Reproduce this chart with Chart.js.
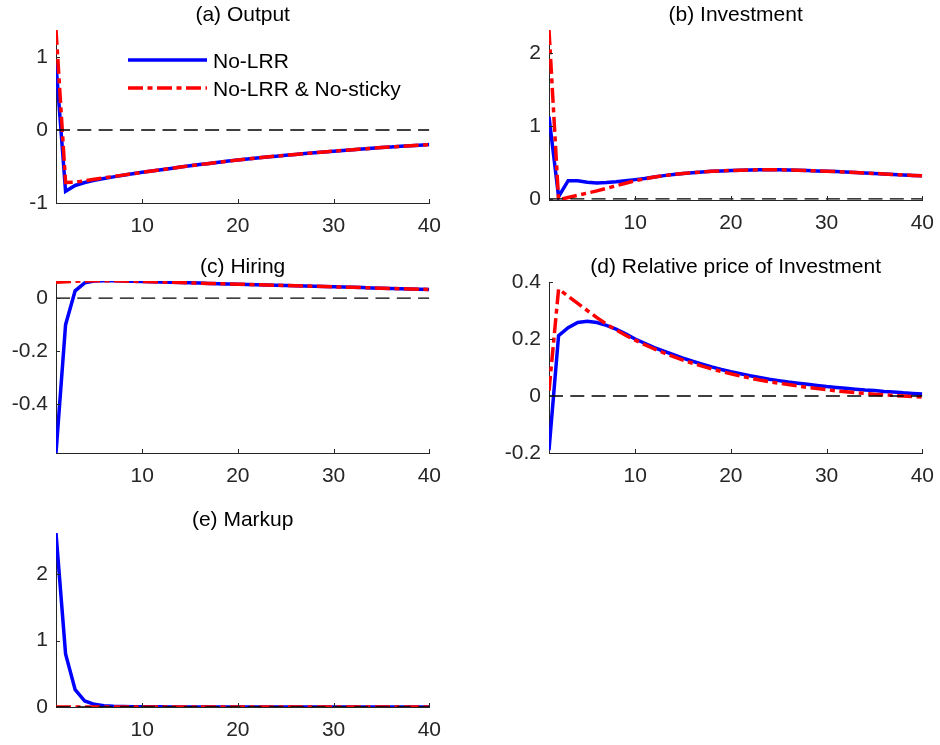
<!DOCTYPE html>
<html><head><meta charset="utf-8">
<script src="https://cdn.jsdelivr.net/npm/chart.js@4/dist/chart.umd.min.js"></script>
<style>
html,body{margin:0;padding:0;background:#fff;width:940px;height:745px;overflow:hidden;}
body{position:relative;font-family:"Liberation Sans",Arial,Helvetica,sans-serif;}
canvas{position:absolute;}
.lg{position:absolute;left:128px;height:28px;font-size:21px;color:#000;white-space:nowrap;}
.lg svg{position:absolute;left:0;top:0;}
.lg span{position:absolute;left:85px;top:50%;transform:translateY(-50%);line-height:1;}
</style></head><body>
<canvas id="cA"></canvas><canvas id="cB"></canvas><canvas id="cC"></canvas><canvas id="cD"></canvas><canvas id="cE"></canvas>
<div class="lg" style="top:46px;width:320px;"><svg width="80" height="28"><line x1="0" y1="14" x2="79" y2="14" stroke="#0000ff" stroke-width="3.5"/></svg><span>No-LRR</span></div>
<div class="lg" style="top:74px;width:320px;"><svg width="80" height="28"><line x1="0" y1="14" x2="79" y2="14" stroke="#ff0000" stroke-width="3.5" stroke-dasharray="15 4.5 5 4.5"/></svg><span>No-LRR &amp; No-sticky</span></div>
<script>
// ---- data ----
const periods = [1,2,3,4,5,6,7,8,9,10,11,12,13,14,15,16,17,18,19,20,21,22,23,24,25,26,27,28,29,30,31,32,33,34,35,36,37,38,39,40];
const xTicks = [10,20,30,40];
const seriesNames = ["No-LRR", "No-LRR & No-sticky"];

const outputNoLRR = [0.90,-0.84,-0.76,-0.72,-0.69,-0.665,-0.642,-0.62,-0.60,-0.58,-0.562,-0.544,-0.526,-0.508,-0.49,-0.474,-0.458,-0.442,-0.426,-0.41,-0.397,-0.384,-0.371,-0.358,-0.345,-0.334,-0.323,-0.312,-0.301,-0.29,-0.28,-0.27,-0.26,-0.25,-0.24,-0.232,-0.224,-0.216,-0.208,-0.20];
const outputNoSticky = [1.37,-0.72,-0.715,-0.695,-0.675,-0.656,-0.637,-0.618,-0.599,-0.58,-0.562,-0.544,-0.526,-0.508,-0.49,-0.474,-0.458,-0.442,-0.426,-0.41,-0.397,-0.384,-0.371,-0.358,-0.345,-0.334,-0.323,-0.312,-0.301,-0.29,-0.28,-0.27,-0.26,-0.25,-0.24,-0.232,-0.224,-0.216,-0.208,-0.20];
const outputTicks = [-1,0,1];

const investNoLRR = [1.13,0.03,0.25,0.25,0.23,0.22,0.225,0.235,0.25,0.265,0.28,0.30,0.32,0.335,0.35,0.36,0.37,0.38,0.385,0.39,0.395,0.398,0.40,0.40,0.40,0.398,0.395,0.39,0.385,0.38,0.375,0.37,0.363,0.356,0.35,0.343,0.336,0.33,0.323,0.317];
const investNoSticky = [2.32,-0.015,0.02,0.05,0.08,0.11,0.145,0.18,0.215,0.25,0.275,0.30,0.32,0.335,0.35,0.36,0.37,0.38,0.385,0.39,0.395,0.398,0.40,0.40,0.40,0.398,0.395,0.39,0.385,0.38,0.375,0.37,0.363,0.356,0.35,0.343,0.336,0.33,0.323,0.317];
const investTicks = [0,1,2];

const hiringNoLRR = [-0.585,-0.10,0.028,0.058,0.065,0.066,0.066,0.065,0.064,0.063,0.062,0.061,0.060,0.059,0.058,0.057,0.056,0.055,0.054,0.053,0.052,0.051,0.050,0.049,0.048,0.047,0.046,0.045,0.044,0.043,0.042,0.041,0.040,0.039,0.038,0.037,0.036,0.035,0.034,0.033];
const hiringNoSticky = [0.060,0.062,0.064,0.065,0.066,0.066,0.066,0.065,0.064,0.063,0.062,0.061,0.060,0.059,0.058,0.057,0.056,0.055,0.054,0.053,0.052,0.051,0.050,0.049,0.048,0.047,0.046,0.045,0.044,0.043,0.042,0.041,0.040,0.039,0.038,0.037,0.036,0.035,0.034,0.033];
const hiringTicks = [-0.4,-0.2,0];

const priceNoLRR = [-0.19,0.212,0.24,0.258,0.262,0.258,0.248,0.235,0.218,0.20,0.185,0.17,0.157,0.145,0.133,0.122,0.112,0.102,0.093,0.085,0.078,0.071,0.065,0.059,0.054,0.049,0.045,0.041,0.037,0.033,0.030,0.027,0.024,0.021,0.019,0.016,0.014,0.011,0.009,0.007];
const priceNoSticky = [0.018,0.375,0.35,0.325,0.30,0.275,0.252,0.232,0.213,0.196,0.18,0.165,0.151,0.138,0.126,0.115,0.105,0.095,0.086,0.078,0.07,0.063,0.056,0.05,0.045,0.04,0.035,0.03,0.026,0.022,0.018,0.015,0.012,0.009,0.006,0.004,0.002,0.0,-0.002,-0.004];
const priceTicks = [-0.2,0,0.2,0.4];

const markupNoLRR = [2.62,0.80,0.26,0.09,0.04,0.02,0.01,0.006,0.004,0.003,0.002,0.002,0.001,0.001,0.001,0.001,0,0,0,0,0,0,0,0,0,0,0,0,0,0,0,0,0,0,0,0,0,0,0,0];
const markupNoSticky = [0,0,0,0,0,0,0,0,0,0,0,0,0,0,0,0,0,0,0,0,0,0,0,0,0,0,0,0,0,0,0,0,0,0,0,0,0,0,0,0];
const markupTicks = [0,1,2];

// ---- drawing ----
const FONT = '"Liberation Sans", Arial, Helvetica, sans-serif';
const AX = '#262626';
const YW = 56, XH = 35, TP = 30, RP = 22;

const panelTitle = {
  id: 'panelTitle',
  afterDraw(chart, args, opts) {
    const a = chart.chartArea, ctx = chart.ctx;
    ctx.save();
    ctx.font = '21px ' + FONT;
    ctx.fillStyle = '#000';
    ctx.textAlign = 'center';
    ctx.textBaseline = 'middle';
    ctx.fillText(opts.text, (a.left + a.right) / 2, a.top - opts.offset);
    ctx.restore();
  }
};
const inwardTicks = {
  id: 'inwardTicks',
  afterDatasetsDraw(chart) {
    const {ctx, chartArea: a, scales: {x, y}} = chart;
    ctx.save();
    ctx.strokeStyle = AX; ctx.lineWidth = 1;
    ctx.beginPath();
    x.ticks.forEach(t => { const px = Math.round(x.getPixelForValue(t.value)) + 0.5; ctx.moveTo(px, a.bottom); ctx.lineTo(px, a.bottom - 4); });
    y.ticks.forEach(t => { const py = Math.round(y.getPixelForValue(t.value)) + 0.5; ctx.moveTo(a.left, py); ctx.lineTo(a.left + 4, py); });
    ctx.stroke();
    ctx.restore();
  }
};

function pts(vals) { return periods.map((p, i) => ({x: p, y: vals[i]})); }

function makePanel(id, plot, title, titleOffset, blue, red, yMin, yMax, yTicks) {
  const cv = document.getElementById(id);
  const w = (plot.R - plot.L) + YW + RP;
  const h = (plot.B - plot.T) + TP + XH;
  cv.width = w; cv.height = h;
  cv.style.left = (plot.L - YW) + 'px';
  cv.style.top = (plot.T - TP) + 'px';
  cv.style.width = w + 'px'; cv.style.height = h + 'px';
  new Chart(cv, {
    type: 'line',
    data: {
      datasets: [
        {label: 'zero', data: [{x: periods[0], y: 0}, {x: periods[periods.length - 1], y: 0}], borderColor: '#000', borderWidth: 1.3, borderDash: [14, 7.3], pointRadius: 0, order: 0},
        {label: seriesNames[1], data: pts(red), borderColor: '#ff0000', borderWidth: 3.5, borderDash: [15, 4.5, 5, 4.5], pointRadius: 0, tension: 0, order: 1},
        {label: seriesNames[0], data: pts(blue), borderColor: '#0000ff', borderWidth: 3.5, pointRadius: 0, tension: 0, order: 2}
      ]
    },
    options: {
      responsive: false, animation: false, devicePixelRatio: 1,
      layout: {padding: {left: 0, right: RP, top: TP, bottom: 0}},
      plugins: {legend: {display: false}, tooltip: {enabled: false}, title: {display: false},
        panelTitle: {text: title, offset: titleOffset}},
      scales: {
        x: {
          type: 'linear', min: periods[0], max: periods[periods.length - 1],
          afterBuildTicks: s => { s.ticks = xTicks.map(v => ({value: v})); },
          afterFit: s => { s.height = XH; },
          grid: {display: true, drawOnChartArea: false, drawTicks: false},
          border: {display: true, color: AX, width: 1},
          ticks: {padding: 11, color: AX, font: {family: FONT, size: 21}, maxRotation: 0, autoSkip: false, callback: v => String(v)}
        },
        y: {
          type: 'linear', min: yMin, max: yMax,
          afterBuildTicks: s => { s.ticks = yTicks.map(v => ({value: v})); },
          afterFit: s => { s.width = YW; },
          grid: {display: true, drawOnChartArea: false, drawTicks: false},
          border: {display: true, color: AX, width: 1},
          ticks: {padding: 8, color: AX, font: {family: FONT, size: 21}, autoSkip: false, callback: v => String(Number(v.toFixed(2)))}
        }
      }
    },
    plugins: [panelTitle, inwardTicks]
  });
}

makePanel('cA', {L: 56, R: 430, T: 30, B: 203}, '(a) Output', 15, outputNoLRR, outputNoSticky, -1, 1.37, outputTicks);
makePanel('cB', {L: 549, R: 923, T: 30, B: 200}, '(b) Investment', 15, investNoLRR, investNoSticky, -0.015, 2.32, investTicks);
makePanel('cC', {L: 56, R: 430, T: 281, B: 453}, '(c) Hiring', 14, hiringNoLRR, hiringNoSticky, -0.585, 0.065, hiringTicks);
makePanel('cD', {L: 549, R: 923, T: 282, B: 453}, '(d) Relative price of Investment', 15, priceNoLRR, priceNoSticky, -0.2, 0.4, priceTicks);
makePanel('cE', {L: 56, R: 430, T: 533, B: 707}, '(e) Markup', 13, markupNoLRR, markupNoSticky, 0, 2.62, markupTicks);
</script>
</body></html>
